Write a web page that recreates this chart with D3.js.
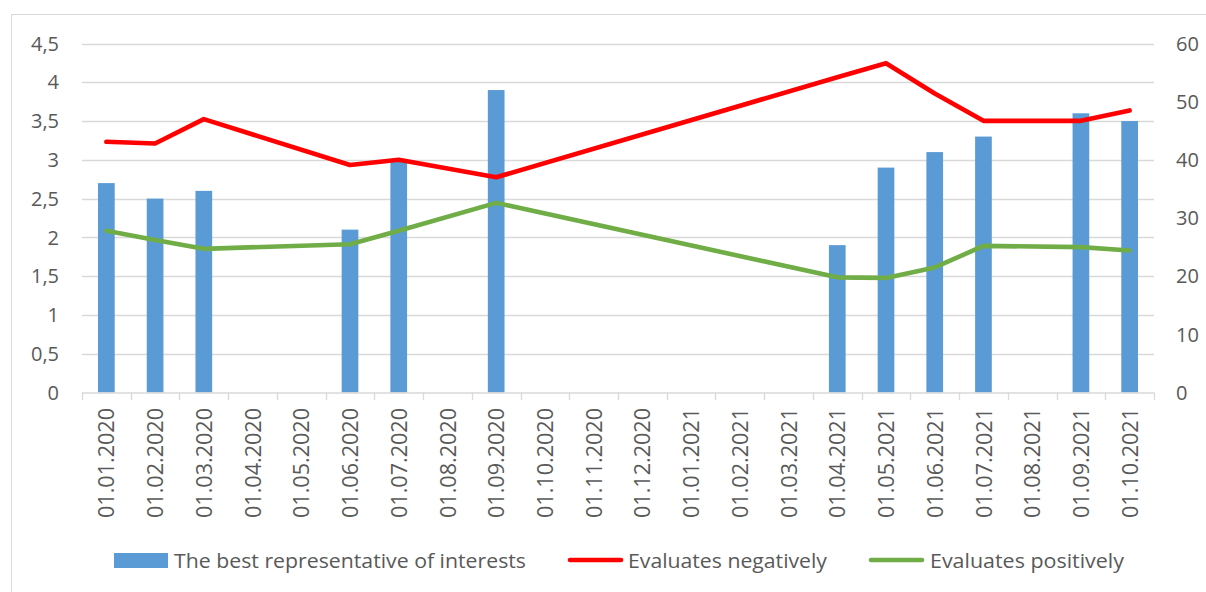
<!DOCTYPE html>
<html>
<head>
<meta charset="utf-8">
<script src="https://cdn.jsdelivr.net/npm/d3@7"></script>
<style>
  html, body { margin: 0; padding: 0; background: #fff; }
  svg { display: block; }
  text { font-family: "Open Sans", "Noto Sans", sans-serif; fill: #595959; }
</style>
</head>
<body>
<svg id="chart" width="1206" height="592"></svg>
<script>
const categories = ["01.01.2020","01.02.2020","01.03.2020","01.04.2020","01.05.2020","01.06.2020","01.07.2020","01.08.2020","01.09.2020","01.10.2020","01.11.2020","01.12.2020","01.01.2021","01.02.2021","01.03.2021","01.04.2021","01.05.2021","01.06.2021","01.07.2021","01.08.2021","01.09.2021","01.10.2021"];
const bestRepresentative = [2.7, 2.5, 2.6, null, null, 2.1, 3.0, null, 3.9, null, null, null, null, null, null, 1.9, 2.9, 3.1, 3.3, null, 3.6, 3.5];
const evaluatesNegatively = [43.1, 42.8, 47.0, null, null, 39.1, 40.0, null, 37.0, null, null, null, null, null, null, 54.2, 56.6, 51.4, 46.7, null, 46.7, 48.5];
const evaluatesPositively = [27.8, 26.2, 24.7, null, null, 25.5, 27.8, null, 32.6, null, null, null, null, null, null, 19.8, 19.7, 21.5, 25.2, null, 25.0, 24.4];
const leftTicks = [0, 0.5, 1, 1.5, 2, 2.5, 3, 3.5, 4, 4.5];
const rightTicks = [0, 10, 20, 30, 40, 50, 60];
const seriesNames = ["The best representative of interests", "Evaluates negatively", "Evaluates positively"];

const svg = d3.select("#chart");
const plot = { left: 82, right: 1154, top: 43.5, bottom: 392.5 };
const fmt = v => String(v).replace(".", ",");

// chart border
svg.append("rect").attr("x", 11.5).attr("y", 14.5).attr("width", 1210).attr("height", 600)
  .attr("fill", "none").attr("stroke", "#d9d9d9").attr("stroke-width", 1);

const x = d3.scaleBand().domain(categories).range([plot.left, plot.right]);
const yL = d3.scaleLinear().domain([0, 4.5]).range([plot.bottom, plot.top]);
const yR = d3.scaleLinear().domain([0, 60]).range([plot.bottom, plot.top]);

// gridlines
svg.append("g").selectAll("line").data(leftTicks.filter(d => d > 0)).join("line")
  .attr("x1", plot.left).attr("x2", plot.right)
  .attr("y1", d => Math.round(yL(d)) + 0.5).attr("y2", d => Math.round(yL(d)) + 0.5)
  .attr("stroke", "#d9d9d9").attr("stroke-width", 1.3);

// left axis labels
svg.append("g").selectAll("text").data(leftTicks).join("text")
  .attr("x", 59).attr("y", d => yL(d)).attr("dy", "0.36em")
  .attr("text-anchor", "end").attr("font-size", 20).text(fmt);

// right axis labels
svg.append("g").selectAll("text").data(rightTicks).join("text")
  .attr("x", 1176).attr("y", d => yR(d)).attr("dy", "0.36em")
  .attr("text-anchor", "start").attr("font-size", 20).text(fmt);

// bars
const barW = 16.7;
svg.append("g").selectAll("rect").data(categories.map((c, i) => ({ c, v: bestRepresentative[i] })).filter(d => d.v != null))
  .join("rect")
  .attr("x", d => x(d.c) + x.bandwidth() / 2 - barW / 2)
  .attr("width", barW)
  .attr("y", d => yL(d.v))
  .attr("height", d => yL(0) - yL(d.v))
  .attr("fill", "#5b9bd5");

// x axis line and ticks
const axisG = svg.append("g");
axisG.append("line").attr("x1", plot.left).attr("x2", plot.right)
  .attr("y1", plot.bottom + 0.5).attr("y2", plot.bottom + 0.5)
  .attr("stroke", "#d9d9d9").attr("stroke-width", 1.3);
const boundaries = categories.map(c => x(c)).concat([plot.right]);
axisG.selectAll("line.tick").data(boundaries).join("line").attr("class", "tick")
  .attr("x1", d => Math.round(d) + 0.5).attr("x2", d => Math.round(d) + 0.5)
  .attr("y1", plot.bottom).attr("y2", plot.bottom + 7.5)
  .attr("stroke", "#d9d9d9").attr("stroke-width", 1.3);

// category labels
svg.append("g").selectAll("text").data(categories).join("text")
  .attr("transform", d => `translate(${x(d) + x.bandwidth() / 2 + 0.5},408) rotate(-90)`)
  .attr("text-anchor", "end").attr("dy", "0.36em").attr("font-size", 21)
  .attr("textLength", 110).attr("lengthAdjust", "spacingAndGlyphs")
  .text(d => d);

// lines
function drawLine(values, color) {
  const pts = categories.map((c, i) => ({ c, v: values[i] })).filter(d => d.v != null);
  const line = d3.line().x(d => x(d.c) + x.bandwidth() / 2).y(d => yR(d.v));
  svg.append("path").datum(pts).attr("d", line)
    .attr("fill", "none").attr("stroke", color).attr("stroke-width", 4.6)
    .attr("stroke-linejoin", "round").attr("stroke-linecap", "round");
}
drawLine(evaluatesNegatively, "#ff0000");
drawLine(evaluatesPositively, "#70ad47");

// legend
const legend = svg.append("g");
legend.append("rect").attr("x", 114).attr("y", 553).attr("width", 54).attr("height", 15).attr("fill", "#5b9bd5");
legend.append("text").attr("x", 174).attr("y", 567.5).attr("font-size", 20)
  .attr("textLength", 352).attr("lengthAdjust", "spacingAndGlyphs").text(seriesNames[0]);
legend.append("line").attr("x1", 570).attr("x2", 621).attr("y1", 560).attr("y2", 560)
  .attr("stroke", "#ff0000").attr("stroke-width", 4.6).attr("stroke-linecap", "round");
legend.append("text").attr("x", 628).attr("y", 567.5).attr("font-size", 20)
  .attr("textLength", 199).attr("lengthAdjust", "spacingAndGlyphs").text(seriesNames[1]);
legend.append("line").attr("x1", 871).attr("x2", 922).attr("y1", 560).attr("y2", 560)
  .attr("stroke", "#70ad47").attr("stroke-width", 4.6).attr("stroke-linecap", "round");
legend.append("text").attr("x", 930).attr("y", 567.5).attr("font-size", 20)
  .attr("textLength", 194).attr("lengthAdjust", "spacingAndGlyphs").text(seriesNames[2]);
</script>
</body>
</html>
